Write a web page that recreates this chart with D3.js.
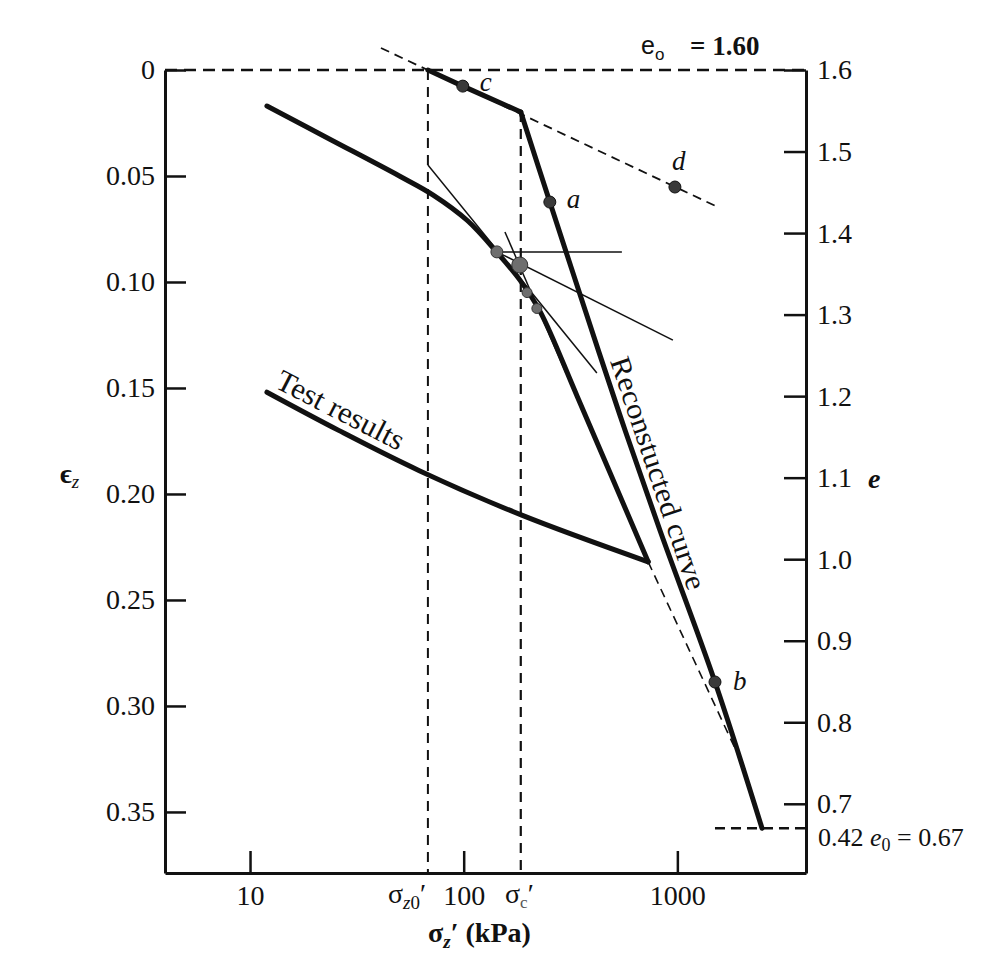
<!DOCTYPE html>
<html>
<head>
<meta charset="utf-8">
<script src="https://cdn.jsdelivr.net/npm/d3@7"></script>
<style>
  body { margin: 0; background: #fff; }
  svg text { font-family: "Liberation Serif", "Times New Roman", serif; fill: #111; }
</style>
</head>
<body>
<div id="chart"></div>
<script>
// ---- data (σz' in kPa, εz) ----
const testLoading = [[12, 0.017], [24, 0.033], [50, 0.050], [72, 0.059], [104, 0.071],
  [143, 0.086], [183, 0.099], [228, 0.114], [340, 0.154], [730, 0.232]];
const testUnloading = [[730, 0.232], [187, 0.210], [62, 0.189], [26, 0.170], [12, 0.152]];
const reconTop = [[68, 0], [99, 0.0076], [185, 0.0198]];
const reconVirgin = [[185, 0.0198], [253, 0.0623], [370, 0.1132], [538, 0.1627],
  [828, 0.217], [1500, 0.2887], [2490, 0.3577]];
const recompression = [[41, -0.0104], [1580, 0.0651]];
const virginExt = [[730, 0.232], [2070, 0.330]];
const tangentLine = [[68, 0.0448], [420, 0.1429]];
const horizLine = [[143, 0.0858], [550, 0.0858]];
const bisector = [[143, 0.0858], [953, 0.1274]];
const virginBack = [[156, 0.0764], [301, 0.1429]];
const namedPoints = [['c', 99, 0.0076], ['a', 253, 0.0623], ['d', 974, 0.0552], ['b', 1500, 0.2887]];
const constructionPoints = [[143, 0.0858, 6], [183, 0.092, 8], [198, 0.105, 5], [220, 0.1125, 5]];
const sigmaZ0 = 68, sigmaC = 185;
const e0 = 1.6, eFinal = 0.67;
const xTicks = [10, 100, 1000];
const leftTicks = [0, 0.05, 0.10, 0.15, 0.20, 0.25, 0.30, 0.35];
const rightTicks = [1.6, 1.5, 1.4, 1.3, 1.2, 1.1, 1.0, 0.9, 0.8, 0.7];

const width = 1007, height = 962;
const ezMax = 0.3788;
const ezFinal = (e0 - eFinal) / (1 + e0);

let x = d3.scaleLog().domain([4, 4000]).range([165, 806]);
let y = d3.scaleLinear().domain([0, ezMax]).range([70, 873]);
let eScale = d3.scaleLinear().domain([e0, e0 - (1 + e0) * ezMax]).range([70, 873]);

let $svg = d3.select('#chart').append('svg')
  .attr('width', width)
  .attr('height', height);
$svg.append('rect').attr('width', width).attr('height', height).attr('fill', '#fff');

let line = d3.line().x(d => x(d[0])).y(d => y(d[1]));
let smooth = d3.line().x(d => x(d[0])).y(d => y(d[1])).curve(d3.curveCatmullRom.alpha(0.5));

// axes
let styleAxis = (g) => {
  g.select('.domain').attr('stroke', '#111').attr('stroke-width', 3);
  g.selectAll('.tick line').attr('stroke', '#111').attr('stroke-width', 2.5);
  g.selectAll('.tick text').attr('font-size', 28).attr('fill', '#111')
    .attr('font-family', '"Liberation Serif", "Times New Roman", serif');
};

$svg.append('g').attr('transform', 'translate(165,0)')
  .call(d3.axisLeft(y).tickValues(leftTicks).tickSizeInner(-21).tickSizeOuter(0).tickPadding(10)
    .tickFormat(d => d === 0 ? '0' : d3.format('.2f')(d)))
  .call(styleAxis);

$svg.append('g').attr('transform', 'translate(806,0)')
  .call(d3.axisRight(eScale).tickValues(rightTicks).tickSizeInner(-22).tickSizeOuter(0).tickPadding(11)
    .tickFormat(d3.format('.1f')))
  .call(styleAxis);

$svg.append('g').attr('transform', 'translate(0,873)')
  .call(d3.axisBottom(x).tickValues(xTicks).tickSizeInner(-22).tickSizeOuter(0).tickPadding(12)
    .tickFormat(d3.format('d')))
  .call(styleAxis);

// dashed reference lines
let dashed = (pts, w, dash) => $svg.append('path').attr('d', line(pts))
  .attr('fill', 'none').attr('stroke', '#111').attr('stroke-width', w).attr('stroke-dasharray', dash);

dashed([[4, 0], [4000, 0]], 2.5, '12,7');                        // εz = 0 / e0
dashed([[sigmaZ0, 0], [sigmaZ0, ezMax]], 2, '10,7');             // σz0'
dashed([[sigmaC, 0.0198], [sigmaC, ezMax]], 2.2, '10,7');        // σc'
dashed([[1500, ezFinal], [4000, ezFinal]], 2.5, '10,6');         // 0.42 e0
dashed(recompression, 1.8, '9,6');
dashed(virginExt, 1.6, '9,6');

// thin construction lines
[tangentLine, horizLine, bisector, virginBack].forEach(pts => {
  $svg.append('path').attr('d', line(pts))
    .attr('fill', 'none').attr('stroke', '#111').attr('stroke-width', 1.5);
});

// thick curves
let thick = (gen, pts, w) => $svg.append('path').attr('d', gen(pts))
  .attr('fill', 'none').attr('stroke', '#111').attr('stroke-width', w)
  .attr('stroke-linejoin', 'round').attr('stroke-linecap', 'round');

thick(smooth, testLoading, 5);
thick(smooth, testUnloading, 5);
thick(line, reconTop, 5);
thick(smooth, reconVirgin, 5);

// points
$svg.selectAll('.cpt').data(constructionPoints).enter().append('circle')
  .attr('cx', d => x(d[0])).attr('cy', d => y(d[1])).attr('r', d => d[2])
  .attr('fill', '#6e6e6e').attr('stroke', '#333').attr('stroke-width', 1);

$svg.selectAll('.npt').data(namedPoints).enter().append('circle')
  .attr('cx', d => x(d[1])).attr('cy', d => y(d[2])).attr('r', 6)
  .attr('fill', '#3a3a3a').attr('stroke', '#111').attr('stroke-width', 1);

let labelOffset = {c: [17, 5], a: [17, 6], d: [-3, -17], b: [18, 8]};
$svg.selectAll('.nlab').data(namedPoints).enter().append('text')
  .attr('x', d => x(d[1]) + labelOffset[d[0]][0])
  .attr('y', d => y(d[2]) + labelOffset[d[0]][1])
  .attr('font-size', 27).attr('font-style', 'italic')
  .text(d => d[0]);

// curve labels, rotated along their lines
let p1 = [x(testUnloading[4][0]), y(testUnloading[4][1])];
let p2 = [x(testUnloading[2][0]), y(testUnloading[2][1])];
let angT = Math.atan2(p2[1] - p1[1], p2[0] - p1[0]);
let degT = angT * 180 / Math.PI;
$svg.append('text')
  .attr('transform', `translate(${p1[0] + 4 + 6 * Math.sin(angT)},${p1[1] - 6 * Math.cos(angT)}) rotate(${degT})`)
  .attr('font-size', 30).attr('textLength', 140).attr('lengthAdjust', 'spacingAndGlyphs')
  .text('Test results');

let q1 = [x(reconVirgin[2][0]), y(reconVirgin[2][1])];
let q2 = [x(reconVirgin[4][0]), y(reconVirgin[4][1])];
let angR = Math.atan2(q2[1] - q1[1], q2[0] - q1[0]);
let degR = angR * 180 / Math.PI;
let tR = (363 - q1[1]) / Math.sin(angR);
let sx = q1[0] + tR * Math.cos(angR) + 7 * Math.sin(angR);
let sy = q1[1] + tR * Math.sin(angR) - 7 * Math.cos(angR);
$svg.append('text')
  .attr('transform', `translate(${sx},${sy}) rotate(${degR})`)
  .attr('font-size', 29).attr('textLength', 244).attr('lengthAdjust', 'spacingAndGlyphs')
  .text('Reconstucted curve');

// axis annotations
let bottomLab = $svg.append('text').attr('x', 388).attr('y', 903).attr('font-size', 28);
bottomLab.append('tspan').text('σ');
bottomLab.append('tspan').attr('font-size', 19).attr('font-style', 'italic').attr('dy', 6).text('z');
bottomLab.append('tspan').attr('font-size', 19).text('0');
bottomLab.append('tspan').attr('dy', -6).text('′');

let scLab = $svg.append('text').attr('x', 505).attr('y', 903).attr('font-size', 28);
scLab.append('tspan').text('σ');
scLab.append('tspan').attr('font-size', 17).attr('dy', 5).attr('fill', '#555').text('c');
scLab.append('tspan').attr('dy', -5).text('′');

let xTitle = $svg.append('text').attr('x', 428).attr('y', 942).attr('font-size', 28).attr('font-weight', 'bold');
xTitle.append('tspan').text('σ');
xTitle.append('tspan').attr('font-size', 19).attr('font-style', 'italic').attr('dy', 6).text('z');
xTitle.append('tspan').attr('dy', -6).text('′ (kPa)');

let ezLab = $svg.append('text').attr('x', 60).attr('y', 483).attr('font-size', 28).attr('font-weight', 'bold');
ezLab.append('tspan').text('ϵ');
ezLab.append('tspan').attr('font-size', 19).attr('font-style', 'italic').attr('font-weight', 'normal').attr('dy', 5).text('z');

$svg.append('text').attr('x', 868).attr('y', 488).attr('font-size', 28)
  .attr('font-style', 'italic').attr('font-weight', 'bold').text('e');

let topLab = $svg.append('text').attr('x', 641).attr('y', 54);
topLab.append('tspan').attr('font-family', '"Liberation Sans", Arial, sans-serif').attr('font-size', 25).text('e');
topLab.append('tspan').attr('font-family', '"Liberation Sans", Arial, sans-serif').attr('font-size', 17).attr('dy', 6).text('o');
topLab.append('tspan').attr('x', 690).attr('dy', -5).attr('font-size', 27).attr('font-weight', 'bold').text('= 1.60');

let finLab = $svg.append('text').attr('x', 818).attr('y', 846).attr('font-size', 26);
finLab.append('tspan').text('0.42 ');
finLab.append('tspan').attr('font-style', 'italic').text('e');
finLab.append('tspan').attr('font-size', 18).attr('dy', 5).text('0');
finLab.append('tspan').attr('dy', -5).text(' = 0.67');
</script>
</body>
</html>
